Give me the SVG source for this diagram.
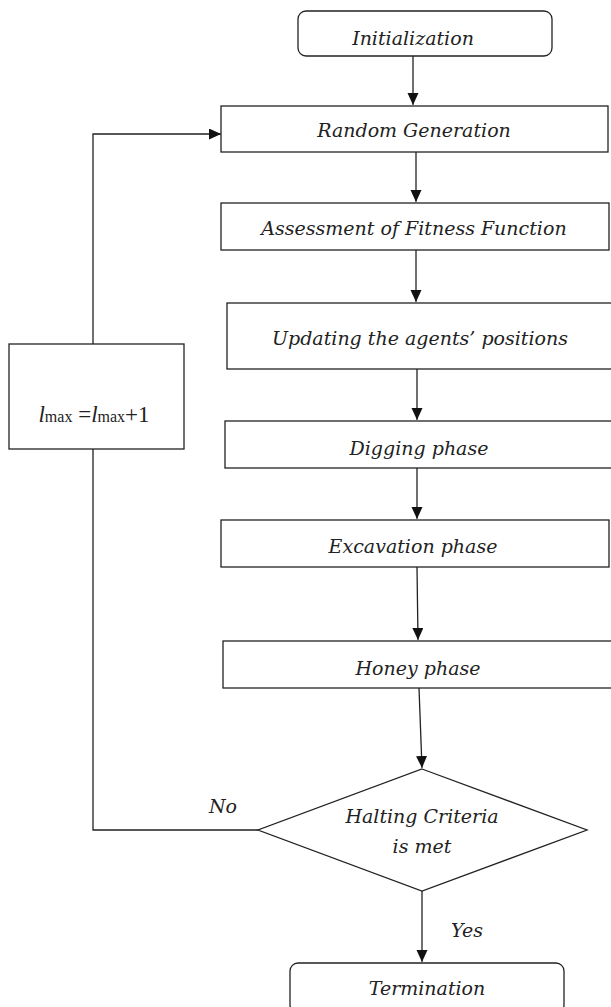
<svg xmlns="http://www.w3.org/2000/svg" width="611" height="1007" viewBox="0 0 611 1007">
<style>
.box{fill:#fff;stroke:#222;stroke-width:1.3}
.ln{fill:none;stroke:#222;stroke-width:1.3}
.t{font-family:"DejaVu Serif","Liberation Serif",serif;font-style:italic;font-size:19px;fill:#222;text-anchor:middle}
.m{font-family:"Liberation Serif","DejaVu Serif",serif;font-size:23px;fill:#222}
</style>
<defs>
<marker id="ah" markerWidth="11" markerHeight="12" refX="12" refY="5.5" orient="auto" markerUnits="userSpaceOnUse">
<path d="M0,0 L12,5.5 L0,11 Z" fill="#111"/>
</marker>
</defs>
<rect width="611" height="1007" fill="#fff"/>
<g id="connectors">
<line class="ln" x1="413" y1="56" x2="413" y2="105" marker-end="url(#ah)"/>
<line class="ln" x1="416" y1="152" x2="416" y2="202" marker-end="url(#ah)"/>
<line class="ln" x1="416" y1="250" x2="416" y2="302" marker-end="url(#ah)"/>
<line class="ln" x1="417" y1="369" x2="417" y2="420" marker-end="url(#ah)"/>
<line class="ln" x1="417" y1="468" x2="417" y2="519" marker-end="url(#ah)"/>
<line class="ln" x1="417" y1="567" x2="418" y2="640" marker-end="url(#ah)"/>
<line class="ln" x1="419" y1="688" x2="422" y2="768" marker-end="url(#ah)"/>
<line class="ln" x1="422" y1="891" x2="422" y2="962" marker-end="url(#ah)"/>
<polyline class="ln" points="258,830 93,830 93,449"/>
<polyline class="ln" points="93,344 93,134 221,134" marker-end="url(#ah)"/>
</g>
<g id="init">
<rect class="box" x="298" y="11" width="254" height="45" rx="8"/>
<text class="t" x="413" y="45">Initialization</text>
</g>
<g id="random">
<rect class="box" x="221" y="106" width="387" height="46"/>
<text class="t" x="414" y="137">Random Generation</text>
</g>
<g id="assess">
<rect class="box" x="221" y="203" width="388" height="47"/>
<text class="t" x="414" y="235">Assessment of Fitness Function</text>
</g>
<g id="update">
<rect class="box" x="227" y="303" width="390" height="66"/>
<text class="t" x="420" y="345">Updating the agents’ positions</text>
</g>
<g id="dig">
<rect class="box" x="225" y="421" width="392" height="47"/>
<text class="t" x="419" y="455">Digging phase</text>
</g>
<g id="excav">
<rect class="box" x="221" y="520" width="388" height="47"/>
<text class="t" x="413" y="553">Excavation phase</text>
</g>
<g id="honey">
<rect class="box" x="223" y="641" width="394" height="47"/>
<text class="t" x="418" y="675">Honey phase</text>
</g>
<g id="halt">
<polygon class="box" points="422,769 587,830 422,891 258,830"/>
<text class="t" x="422" y="823">Halting Criteria</text>
<text class="t" x="422" y="853">is met</text>
</g>
<g id="labels">
<text class="t" x="223" y="813">No</text>
<text class="t" x="467" y="937">Yes</text>
</g>
<g id="term">
<rect class="box" x="290" y="963" width="274" height="50" rx="8"/>
<text class="t" x="427" y="995">Termination</text>
</g>
<g id="lmax">
<rect class="box" x="9" y="344" width="175" height="105"/>
<text class="m" x="94" y="422" text-anchor="middle"><tspan font-style="italic">l</tspan><tspan font-size="16">max</tspan> =<tspan font-style="italic">l</tspan><tspan font-size="16">max</tspan>+1</text>
</g>
</svg>
